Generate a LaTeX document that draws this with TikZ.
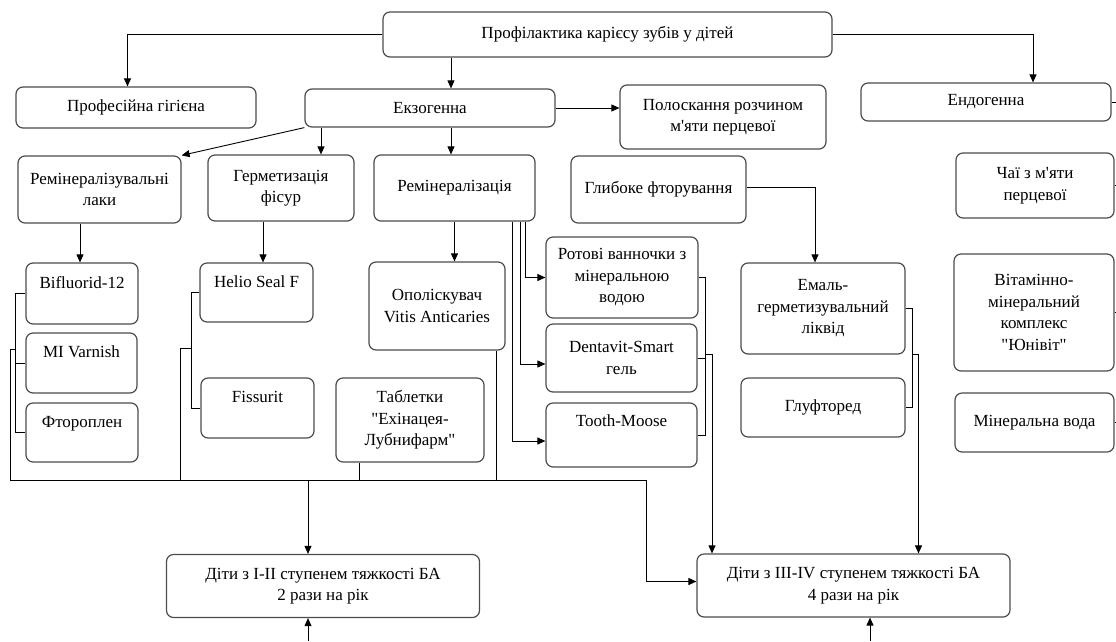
\documentclass[tikz,border=0pt]{standalone}
\usepackage{fontspec}
\setmainfont{Liberation Serif}
\usetikzlibrary{arrows.meta}

\begin{document}
\begin{tikzpicture}[
  x=1pt, y=-1pt,
  box/.style={draw=black!70, line width=1.2pt, rounded corners=7pt, align=center, inner sep=2pt, font=\fontsize{17}{21.5}\selectfont},
  kidbox/.style={box, minimum width=313pt, minimum height=63pt},
  arr/.style={-{Triangle[length=8pt, width=7pt]}, line width=0.9pt},
  ln/.style={line width=0.9pt}
]
  \useasboundingbox (0,0) rectangle (1116,641);

  % top levels
  \node[box, minimum width=449pt, minimum height=45pt] (prof) at (607.5,34.5) {Профілактика карієсу зубів у дітей};
  \node[box, minimum width=240pt, minimum height=41pt] (gig) at (136,107.5) {Професійна гігієна};
  \node[box, minimum width=250pt, minimum height=38pt] (exo) at (430,108) {Екзогенна};
  \node[box, minimum width=206pt, minimum height=64pt] (rinse) at (723,117) {Полоскання розчином\\м\textquotesingle яти перцевої};
  \node[box, minimum width=250pt, minimum height=38pt] (endo) at (986,102) {Ендогенна};

  % methods
  \node[box, minimum width=163pt, minimum height=67pt] (laky) at (99.5,189.5) {Ремінералізувальні\\лаки};
  \node[box, minimum width=146pt, minimum height=66pt] (herm) at (281,188) {Герметизація\\фісур};
  \node[box, minimum width=161pt, minimum height=66pt] (remin) at (454.5,188) {Ремінералізація};
  \node[box, minimum width=175pt, minimum height=67pt] (deep) at (658.5,189.5) {Глибоке фторування};
  \node[box, minimum width=158pt, minimum height=65pt] (tea) at (1035,185.5) {Чаї з м\textquotesingle яти\\перцевої};

  % preparations
  \node[box, minimum width=112pt, minimum height=61pt] (bifl) at (82,293.5) {Bifluorid-12\\[-6pt]\strut};
  \node[box, minimum width=111pt, minimum height=60pt] (mi) at (81.5,363) {MI Varnish\\[-6pt]\strut};
  \node[box, minimum width=112pt, minimum height=59pt] (ftor) at (82,432.5) {Фтороплен\\[-6pt]\strut};
  \node[box, minimum width=113pt, minimum height=59pt] (helio) at (256.5,292.5) {Helio Seal F\\[-6pt]\strut};
  \node[box, minimum width=113pt, minimum height=60pt] (fiss) at (257.5,408) {Fissurit\\[-6pt]\strut};
  \node[box, minimum width=136pt, minimum height=88pt] (vitis) at (437,306) {Ополіскувач\\Vitis Anticaries};
  \node[box, minimum width=148pt, minimum height=84pt] (tabl) at (410,420) {Таблетки\\\textquotedbl Ехінацея-\\Лубнифарм\textquotedbl};
  \node[box, minimum width=152pt, minimum height=81pt] (bath) at (622,277.5) {Ротові ванночки з\\мінеральною\\водою};
  \node[box, minimum width=151pt, minimum height=68pt] (dent) at (621.5,358) {Dentavit-Smart\\гель};
  \node[box, minimum width=151pt, minimum height=64pt] (tooth) at (621.5,435) {Tooth-Moose\\\strut};
  \node[box, minimum width=164pt, minimum height=91pt] (email) at (823,308.5) {Емаль-\\герметизувальний\\ліквід};
  \node[box, minimum width=164pt, minimum height=59pt] (gluf) at (823,407.5) {Глуфторед};
  \node[box, minimum width=160pt, minimum height=117pt] (vit) at (1034,312.5) {Вітамінно-\\мінеральний\\комплекс\\\textquotedbl Юнівіт\textquotedbl};
  \node[box, minimum width=159pt, minimum height=59pt] (water) at (1034.5,422.5) {Мінеральна вода};

  % groups of children
  \node[kidbox] (kid1) at (323,586) {Діти з I-II ступенем тяжкості БА\\2 рази на рік};
  \node[kidbox] (kid2) at (853.5,585.5) {Діти з III-IV ступенем тяжкості БА\\4 рази на рік};

  \coordinate (busL) at (11,480);
  \coordinate (busK) at (308,480);
  \coordinate (busR) at (646,480);
  \coordinate (inL) at (308,641);
  \coordinate (inR) at (870,641);

  % arrows from the top
  \draw[arr] (prof.west) -| ([xshift=-8.5pt]gig.north);
  \draw[arr] ([xshift=-156.5pt]prof.south) -- ([xshift=21pt]exo.north);
  \draw[arr] (prof.east) -| ([xshift=47pt]endo.north);
  \draw[arr] (exo.south west) -- (laky.north east);
  \draw[arr] ([xshift=-109pt]exo.south) -- ([xshift=40pt]herm.north);
  \draw[arr] ([xshift=21pt]exo.south) -- ([xshift=-3.5pt]remin.north);
  \draw[arr] (exo.east) -- (exo.east -| rinse.west);
  \draw[ln] (endo.east) -- ++(8,0);
  \draw[ln] (tea.east) -- ++(8,0);
  \draw[ln] (vit.east) -- ++(8,0);
  \draw[ln] (water.east) -- ++(8,0);

  \draw[arr] ([xshift=-19.5pt]laky.south) -- ([xshift=-2pt]bifl.north);
  \draw[arr] ([xshift=-18pt]herm.south) -- ([xshift=6.5pt]helio.north);
  \draw[arr] (remin.south) -- ([xshift=17.5pt]vitis.north);
  \draw[arr] ([xshift=70.5pt]remin.south) |- (bath.west);
  \draw[arr] ([xshift=65.5pt]remin.south) |- ([yshift=-6pt]dent.west);
  \draw[arr] ([xshift=57.5pt]remin.south) |- ([yshift=-6pt]tooth.west);
  \draw[arr] ([yshift=2.5pt]deep.east) -| ([xshift=-8pt]email.north);

  % brackets down to the bus
  \draw[ln] (bifl.west) -- ++(-9.5,0) |- (ftor.west);
  \draw[ln] (mi.west) -- ++(-9.5,0);
  \draw[ln] ([xshift=-9.5pt]mi.west) ++(0,-14) -- ++(-5.5,0) |- (busL);
  \draw[ln] (helio.west) -- ++(-8,0) |- (fiss.west);
  \draw[ln] ([xshift=-8pt]helio.west) ++(0,55.5) -- ++(-10.5,0) |- (busL);
  \draw[ln] ([xshift=-51pt]tabl.south) |- (busL);
  \draw[ln] ([xshift=59pt]vitis.south) |- (busL);
  \draw[ln] (busL) -- (busR);
  \draw[arr] (busR) |- ([yshift=4pt]kid2.west);
  \draw[arr] (busK) -- (busK |- kid1.north);

  \draw[ln] (bath.east) -- ++(7,0) |- (tooth.east);
  \draw[ln] (dent.east) -- ++(8,0);
  \draw[arr] ([xshift=8pt]dent.east) ++(0,-4) -| ([xshift=-141.5pt]kid2.north);
  \draw[ln] (email.east) -- ++(7,0) |- (gluf.east);
  \draw[arr] ([xshift=7pt]email.east) ++(0,45.5) -| ([xshift=65pt]kid2.north);

  \draw[arr] (inL) -- (inL |- kid1.south);
  \draw[arr] (inR) -- (inR |- kid2.south);
\end{tikzpicture}
\end{document}
